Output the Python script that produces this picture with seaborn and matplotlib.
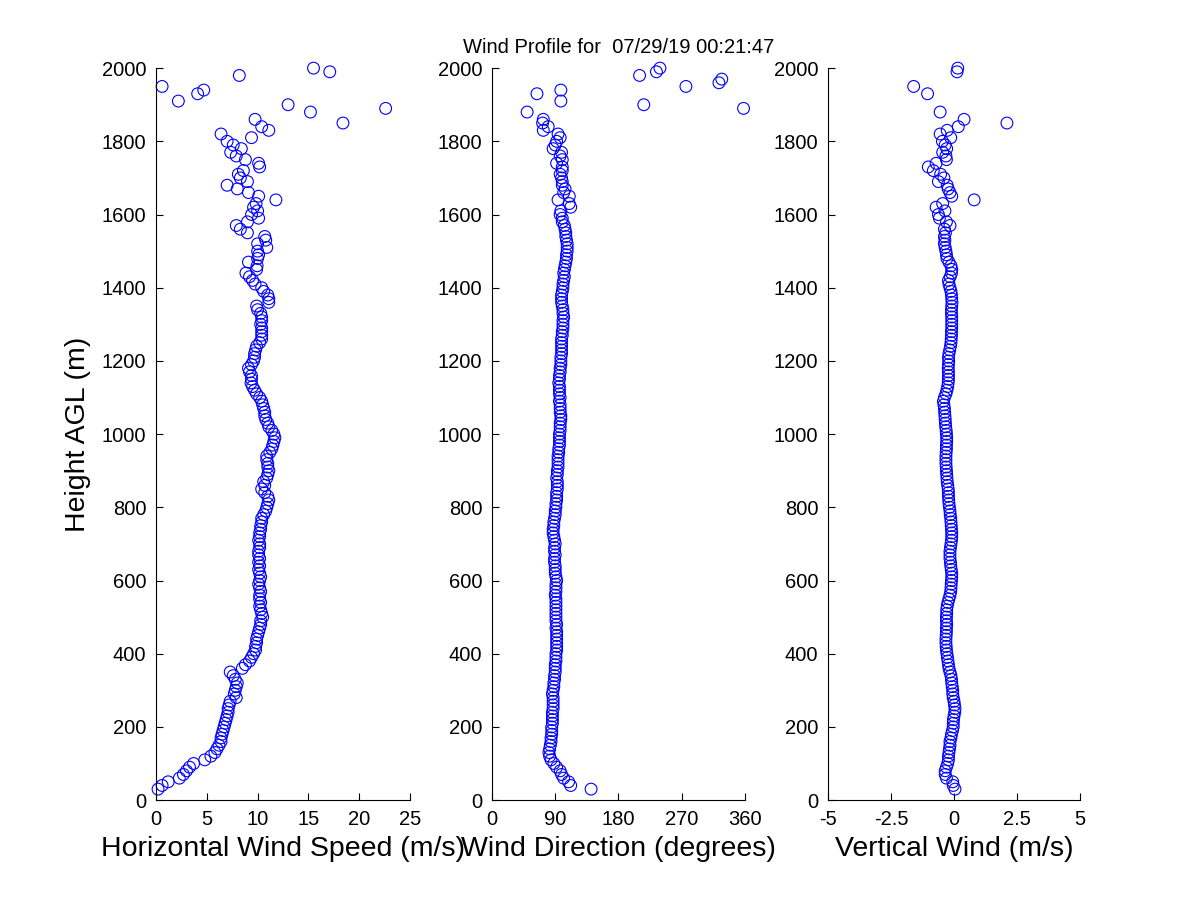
import numpy as np
import pandas as pd
import matplotlib
matplotlib.use("Agg")
import matplotlib.pyplot as plt
import seaborn as sns

nan = np.nan

alturas = [
    30, 40, 50, 60, 70, 80, 90, 100, 110, 120,
    130, 140, 150, 160, 170, 180, 190, 200, 210, 220,
    230, 240, 250, 260, 270, 280, 290, 300, 310, 320,
    330, 340, 350, 360, 370, 380, 390, 400, 410, 420,
    430, 440, 450, 460, 470, 480, 490, 500, 510, 520,
    530, 540, 550, 560, 570, 580, 590, 600, 610, 620,
    630, 640, 650, 660, 670, 680, 690, 700, 710, 720,
    730, 740, 750, 760, 770, 780, 790, 800, 810, 820,
    830, 840, 850, 860, 870, 880, 890, 900, 910, 920,
    930, 940, 950, 960, 970, 980, 990, 1000, 1010, 1020,
    1030, 1040, 1050, 1060, 1070, 1080, 1090, 1100, 1110, 1120,
    1130, 1140, 1150, 1160, 1170, 1180, 1190, 1200, 1210, 1220,
    1230, 1240, 1250, 1260, 1270, 1280, 1290, 1300, 1310, 1320,
    1330, 1340, 1350, 1360, 1370, 1380, 1390, 1400, 1410, 1420,
    1430, 1440, 1450, 1460, 1470, 1480, 1490, 1500, 1510, 1520,
    1530, 1540, 1550, 1560, 1570, 1580, 1590, 1600, 1610, 1620,
    1630, 1640, 1650, 1660, 1670, 1680, 1690, 1700, 1710, 1720,
    1730, 1740, 1750, 1760, 1770, 1780, 1790, 1800, 1810, 1820,
    1830, 1840, 1850, 1860, 1870, 1880, 1890, 1900, 1910, 1920,
    1930, 1940, 1950, 1960, 1970, 1980, 1990, 2000,
]

velocidad = [
    0.2, 0.6, 1.2, 2.3, 2.7, 3.0, 3.3, 3.7, 4.8, 5.4,
    5.8, 6.0, 6.2, 6.4, 6.4, 6.5, 6.6, 6.7, 6.8, 6.9,
    7.0, 7.1, 7.1, 7.2, 7.3, 7.9, 7.7, 7.8, 7.9, 8.0,
    7.8, 7.6, 7.3, 8.5, 8.8, 9.2, 9.4, 9.6, 9.8, 9.8,
    9.9, 9.9, 10.0, 10.1, 10.2, 10.3, 10.3, 10.5, 10.4, 10.3,
    10.2, 10.3, 10.2, 10.2, 10.3, 10.2, 10.1, 10.2, 10.3, 10.2,
    10.1, 10.2, 10.1, 10.2, 10.1, 10.1, 10.2, 10.2, 10.1, 10.2,
    10.2, 10.3, 10.3, 10.4, 10.4, 10.6, 10.8, 10.9, 11.0, 11.1,
    11.0, 10.7, 10.4, 10.7, 10.6, 10.9, 11.0, 11.1, 11.0, 11.0,
    10.9, 10.9, 11.2, 11.4, 11.5, 11.6, 11.7, 11.6, 11.4, 11.1,
    11.0, 10.8, 10.7, 10.7, 10.6, 10.5, 10.4, 10.2, 9.9, 9.7,
    9.5, 9.35, 9.4, 9.4, 9.2, 9.1, 9.4, 9.6, 9.7, 9.7,
    9.8, 9.9, 10.2, 10.4, 10.4, 10.4, 10.4, 10.3, 10.4, 10.4,
    10.3, 10.0, 9.9, 11.1, 11.1, 11.0, 10.6, 10.4, 9.75, 9.5,
    9.2, 8.85, 9.9, 9.95, 9.1, 10.0, 10.1, 10.0, 10.9, 10.0,
    10.8, 10.7, 9.0, 8.3, 7.9, 9.0, 10.1, 9.4, 10.0, 9.6,
    9.85, 11.8, 10.1, 9.1, 8.0, 7.0, 9.0, 8.3, 8.1, 8.6,
    10.2, 10.1, 8.8, 7.9, 7.35, 8.4, 7.6, 7.0, 9.4, 6.4,
    11.1, 10.4, 18.4, 9.75, nan, 15.2, 22.6, 13.0, 2.2, nan,
    4.1, 4.7, 0.6, nan, nan, 8.2, 17.1, 15.5,
]

direccion = [
    141, 112, 109, 102, 99, 97, 92, 88, 84, 82,
    81, 82, 83, 84, 84, 85, 85, 85, 86, 86,
    86, 86, 87, 87, 87, 87, 86, 87, 88, 88,
    89, 89, 90, 90, 90, 91, 91, 91, 92, 92,
    92, 92, 92, 92, 91, 92, 91, 91, 91, 91,
    91, 91, 91, 90, 91, 91, 91, 92, 91, 90,
    90, 90, 89, 89, 90, 89, 89, 90, 89, 88,
    87, 87, 88, 88, 89, 90, 90, 91, 91, 92,
    92, 92, 93, 93, 93, 92, 93, 93, 94, 94,
    94, 94, 95, 95, 96, 96, 96, 96, 97, 97,
    97, 98, 98, 97, 97, 97, 96, 97, 96, 96,
    96, 95, 96, 96, 97, 97, 98, 98, 98, 99,
    99, 99, 99, 99, 100, 100, 101, 101, 101, 102,
    101, 101, 100, 99, 99, 99, 100, 101, 101, 102,
    103, 102, 103, 104, 105, 106, 106, 107, 107, 107,
    106, 105, 105, 104, 103, 100, 100, 97, 98, 112,
    110, 94, 110, 102, 104, 100, 100, 99, 97, 100,
    100, 92, 100, 97, 99, 87, 90, 92, 97, 94,
    73, 80, 72, 73, nan, 50, 358, 216, 98, nan,
    64, 98, 276, 323, 327, 210, 234, 239,
]

vertical = [
    0.04, -0.03, -0.05, -0.3, -0.35, -0.35, -0.3, -0.25, -0.22, -0.22,
    -0.2, -0.18, -0.16, -0.16, -0.12, -0.1, -0.06, -0.03, -0.03, -0.02,
    0.0, 0.03, 0.04, 0.02, 0.0, -0.03, -0.05, -0.05, -0.07, -0.09,
    -0.1, -0.12, -0.16, -0.2, -0.22, -0.24, -0.26, -0.28, -0.3, -0.31,
    -0.32, -0.32, -0.31, -0.3, -0.3, -0.29, -0.3, -0.3, -0.29, -0.29,
    -0.27, -0.24, -0.2, -0.16, -0.13, -0.12, -0.11, -0.1, -0.09, -0.09,
    -0.11, -0.13, -0.14, -0.16, -0.16, -0.16, -0.14, -0.12, -0.1, -0.09,
    -0.09, -0.1, -0.11, -0.12, -0.13, -0.15, -0.16, -0.18, -0.2, -0.21,
    -0.22, -0.22, -0.23, -0.25, -0.27, -0.28, -0.29, -0.3, -0.31, -0.32,
    -0.32, -0.32, -0.31, -0.3, -0.3, -0.29, -0.29, -0.3, -0.31, -0.33,
    -0.34, -0.35, -0.36, -0.37, -0.38, -0.4, -0.42, -0.38, -0.32, -0.28,
    -0.25, -0.23, -0.22, -0.22, -0.22, -0.23, -0.22, -0.21, -0.22, -0.2,
    -0.17, -0.14, -0.12, -0.11, -0.1, -0.1, -0.09, -0.09, -0.09, -0.09,
    -0.1, -0.1, -0.09, -0.08, -0.09, -0.1, -0.12, -0.16, -0.2, -0.22,
    -0.15, -0.1, -0.09, -0.12, -0.2, -0.28, -0.3, -0.32, -0.35, -0.38,
    -0.36, -0.38, -0.34, -0.38, -0.16, -0.3, -0.58, -0.62, -0.36, -0.71,
    -0.45, 0.8, -0.09, -0.16, -0.23, -0.27, -0.62, -0.4, -0.53, -0.82,
    -1.02, -0.71, -0.3, -0.32, -0.45, -0.29, -0.35, -0.46, -0.13, -0.55,
    -0.27, 0.17, 2.1, 0.4, nan, -0.55, nan, nan, nan, nan,
    -1.05, nan, -1.6, nan, nan, nan, 0.12, 0.15,
]

titulo = "Wind Profile for  07/29/19 00:21:47"

df = pd.DataFrame({
    "altura": alturas,
    "velocidad": velocidad,
    "direccion": direccion,
    "vertical": vertical,
})

# ---------------- estilo tipo MATLAB ----------------
sns.set_style("ticks")
plt.rcParams["font.family"] = ["Liberation Sans", "DejaVu Sans"]
plt.rcParams["text.color"] = "black"
plt.rcParams["axes.labelcolor"] = "black"
plt.rcParams["axes.edgecolor"] = "black"
plt.rcParams["axes.linewidth"] = 0.8
plt.rcParams["xtick.direction"] = "in"
plt.rcParams["ytick.direction"] = "in"

fig = plt.figure(figsize=(12, 9), dpi=100)

paneles = [
    ("velocidad", [0.13, 0.111, 0.2117, 0.8133], (0, 25), [0, 5, 10, 15, 20, 25],
     ["0", "5", "10", "15", "20", "25"], "Horizontal Wind Speed (m/s)"),
    ("direccion", [0.41, 0.111, 0.2108, 0.8133], (0, 360), [0, 90, 180, 270, 360],
     ["0", "90", "180", "270", "360"], "Wind Direction (degrees)"),
    ("vertical", [0.69, 0.111, 0.21, 0.8133], (-5, 5), [-5, -2.5, 0, 2.5, 5],
     ["-5", "-2.5", "0", "2.5", "5"], "Vertical Wind (m/s)"),
]

ejes = []
for col, pos, lims, ticks, etiquetas, xlab in paneles:
    ax = fig.add_axes(pos)
    sns.scatterplot(data=df, x=col, y="altura", ax=ax, marker="o", s=72,
                    facecolor="none", edgecolor="blue", linewidth=0.8,
                    legend=False, clip_on=False)
    ax.set_xlim(*lims)
    ax.set_ylim(0, 2000)
    ax.set_xticks(ticks)
    ax.set_xticklabels(etiquetas)
    ax.set_yticks(range(0, 2001, 200))
    ax.tick_params(labelsize=14.5, length=5, width=0.8, pad=7, colors="black")
    ax.set_xlabel(xlab, fontsize=20.5, labelpad=5)
    ax.set_ylabel("")
    sns.despine(ax=ax)
    ejes.append(ax)

ejes[0].set_ylabel("Height AGL (m)", fontsize=20.5, labelpad=8)
ejes[1].set_title(titulo, fontsize=14.5, pad=11)

fig.savefig("out.png", dpi=100, facecolor="white")
